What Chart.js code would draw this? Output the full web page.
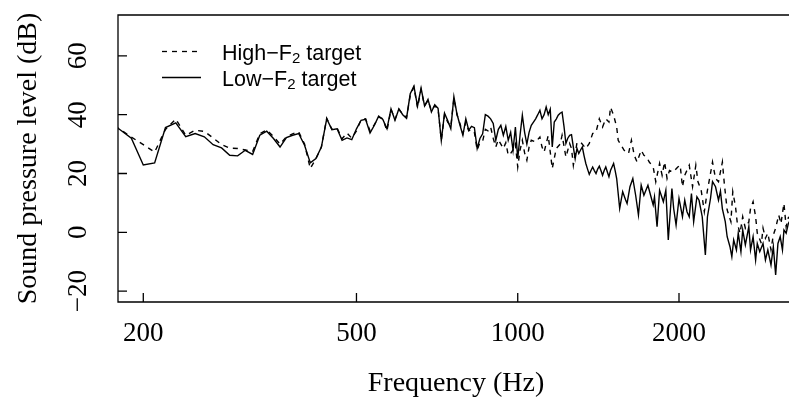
<!DOCTYPE html>
<html><head><meta charset="utf-8">
<script src="https://cdn.jsdelivr.net/npm/chart.js@4.4.1/dist/chart.umd.min.js"></script>
<style>html,body{margin:0;padding:0;background:#fff}#wrap{width:789px;height:410px}</style>
</head><body><div id="wrap"><canvas id="c" width="789" height="410"></canvas></div>
<script>
const seriesNames = ['High\u2212F|2| target', 'Low\u2212F|2| target'];
const xTitle = 'Frequency (Hz)';
const yTitle = 'Sound pressure level (dB)';
const xTicks = [200, 500, 1000, 2000];
const yTicks = [-20, 0, 20, 40, 60];

const freqLow = [170,180,190,200,210,220,230,240,250,260,270,280,290,300,310,320,330,340,350,360,370,380,390,400,410,420,430,440,450,460,470,480,490,500,510,520,530,540,550,560,570,580,590,600,610,620,630,640,650,660,670,680,690,700,710,720,730,740,750,760,770,780,790,800,810,820,830,840,850,860,870,880,890,900,910,920,930,940,950,960,970,980,990,1000,1010,1020,1030,1040,1050,1060,1070,1080,1090,1100,1110,1120,1130,1140,1150,1160,1170,1180,1190,1200,1210,1220,1230,1240,1250,1260,1270,1280,1290,1300,1310,1320,1330,1340,1350,1360,1370,1380,1390,1400,1410,1420,1430,1440,1450,1460,1470,1480,1490,1510,1520,1530,1550,1570,1590,1600,1620,1640,1660,1680,1700,1720,1750,1770,1790,1800,1820,1840,1870,1890,1910,1940,1955,1975,2000,2030,2050,2070,2090,2110,2130,2160,2180,2210,2240,2260,2290,2310,2340,2370,2390,2410,2440,2460,2490,2510,2530,2560,2580,2610,2630,2660,2700,2720,2750,2780,2800,2830,2870,2900,2930,2970,3000,3030,3060,3090,3120,3140,3170,3200,3250];
const dbLow = [37.5,35.2,32.0,22.9,23.6,35.6,37.2,32.5,33.6,32.5,29.8,28.7,26.2,26.0,27.9,26.5,33.0,34.4,31.9,29.0,32.2,33.0,33.6,29.6,23.6,25.1,29.0,38.6,34.9,35.2,31.3,32.1,31.5,35.2,38.1,38.4,33.8,36.4,39.5,38.4,35.2,42.0,38.1,42.0,40.0,38.8,47.1,49.7,42.9,49.0,43.0,45.2,40.9,43.4,42.2,31.2,40.5,38.0,35.2,46.1,40.3,36.5,33.0,38.6,34.7,36.0,35.6,28.5,31.9,33.5,40.0,39.5,38.6,37.0,31.3,35.0,36.4,33.0,36.0,31.3,34.0,27.9,35.8,25.0,33.0,39.8,34.0,30.0,34.0,36.4,37.5,38.6,40.0,41.5,38.6,40.0,42.6,40.0,41.9,29.0,37.5,38.5,39.8,40.5,40.9,36.0,30.2,32.0,33.0,33.2,29.0,25.0,28.5,26.8,28.0,29.0,26.0,23.4,21.5,19.7,21.0,22.2,21.0,20.0,21.5,22.5,21.0,19.4,21.0,22.2,20.5,18.9,21.0,23.4,21.0,18.3,8.1,13.8,11.0,9.8,15.5,18.3,12.6,5.9,16.0,12.6,16.0,12.6,9.3,12.0,1.9,14.3,10.4,14.3,-2.6,14.9,8.0,2.5,11.5,5.3,10.9,7.0,5.3,13.2,3.6,12.1,10.9,5.3,-7.7,5.3,11.5,17.2,15.5,10.9,14.0,8.0,3.6,-1.5,-4.9,-8.3,-2.6,-6.0,-0.3,-6.6,0.8,-4.3,1.9,-6.0,-1.5,-9.4,-3.8,-6.6,-3.8,-9.4,-6.0,-11.1,-4.9,-14.5,-3.8,-1.5,-6.0,0.8,-0.3,3.0,5.0];

const freqHigh = [170,180,190,200,210,220,230,240,250,260,270,280,290,300,310,320,330,340,350,360,370,380,390,400,410,420,430,440,450,460,470,480,490,500,510,520,530,540,550,560,570,580,590,600,610,620,630,640,650,660,670,680,690,700,710,720,730,740,750,760,770,780,790,800,810,820,830,840,850,860,870,880,890,900,910,920,930,940,950,960,970,980,990,1000,1010,1020,1030,1040,1050,1060,1080,1100,1110,1120,1140,1160,1180,1200,1210,1230,1250,1260,1270,1290,1310,1340,1360,1380,1400,1420,1440,1460,1480,1490,1510,1530,1540,1560,1580,1610,1630,1650,1670,1700,1720,1740,1760,1790,1810,1840,1860,1880,1900,1920,1950,1990,2010,2030,2050,2090,2120,2150,2170,2200,2230,2260,2290,2310,2340,2370,2410,2430,2460,2500,2520,2550,2570,2600,2630,2660,2700,2720,2750,2780,2800,2850,2870,2900,2930,2970,3000,3030,3070,3100,3140,3170,3200,3250];
const dbHigh = [37.5,35.3,32.4,29.8,27.3,35.0,38.5,33.0,34.7,34.3,32.1,29.8,28.6,28.5,28.0,27.5,33.5,34.8,32.6,30.0,32.5,33.5,34.2,30.0,21.7,25.0,29.0,38.8,35.0,35.5,31.8,33.8,32.0,34.5,38.3,38.6,34.5,36.6,39.2,38.6,34.5,41.8,38.4,41.8,40.2,39.0,46.5,49.4,42.4,48.5,43.0,44.8,41.4,43.0,42.0,31.3,40.0,37.5,36.0,45.5,40.0,37.0,33.6,37.5,34.5,35.0,34.0,28.0,30.5,31.0,35.0,34.5,35.8,32.0,29.0,31.5,30.0,28.5,30.5,26.2,26.8,28.0,30.0,22.2,28.0,31.3,27.0,24.5,29.0,31.3,30.7,32.4,29.0,27.3,32.9,21.7,28.5,30.0,33.0,25.6,30.2,28.5,22.8,30.5,30.7,28.5,30.2,33.6,34.1,38.6,35.8,38.6,37.5,42.5,39.8,35.8,31.3,29.6,27.9,26.8,31.3,26.2,23.9,27.9,26.2,25.6,23.9,22.2,17.2,23.4,19.4,23.9,18.3,21.0,20.5,22.2,22.8,15.5,19.4,22.8,15.5,22.8,17.2,14.3,7.0,14.3,20.0,23.9,18.3,17.2,23.9,16.6,7.6,3.6,13.8,8.7,3.0,-0.3,5.3,1.4,3.6,8.1,10.4,5.3,-0.3,-3.8,1.4,-2.0,-0.3,-6.0,-0.9,1.4,5.9,3.0,9.8,1.9,5.0,6.0];

const serif = '"Liberation Serif", "Times New Roman", serif';
const sans = '"Liberation Sans", Arial, sans-serif';

function drawRich(ctx, text, x, y, size) {
  const parts = text.split('|');
  let cx = x;
  parts.forEach((p, i) => {
    const sub = i % 2 === 1;
    ctx.font = (sub ? Math.round(size * 0.68) : size) + 'px ' + sans;
    ctx.fillText(p, cx, sub ? y + 3 : y);
    cx += ctx.measureText(p).width;
  });
}

const decor = {
  id: 'decor',
  afterDraw(chart) {
    const ctx = chart.ctx, a = chart.chartArea;
    const xs = chart.scales.x, ys = chart.scales.y;
    ctx.save();
    ctx.strokeStyle = '#000';
    ctx.fillStyle = '#000';
    ctx.lineWidth = 1.3;
    ctx.setLineDash([]);
    ctx.beginPath();
    ctx.moveTo(chart.width + 2, a.top); ctx.lineTo(a.left, a.top);
    ctx.lineTo(a.left, a.bottom); ctx.lineTo(chart.width + 2, a.bottom);
    ctx.stroke();
    ctx.beginPath();
    xTicks.forEach(v => { const px = xs.getPixelForValue(v); ctx.moveTo(px, a.bottom); ctx.lineTo(px, a.bottom - 9); });
    yTicks.forEach(v => { const py = ys.getPixelForValue(v); ctx.moveTo(a.left, py); ctx.lineTo(a.left + 9, py); });
    ctx.stroke();
    ctx.font = '27px ' + serif;
    ctx.textAlign = 'center';
    ctx.textBaseline = 'alphabetic';
    xTicks.forEach(v => ctx.fillText(String(v), xs.getPixelForValue(v), 341));
    yTicks.forEach(v => {
      ctx.save();
      ctx.translate(86, ys.getPixelForValue(v));
      ctx.rotate(-Math.PI / 2);
      ctx.fillText(v < 0 ? '\u2212' + Math.abs(v) : String(v), 0, 0);
      ctx.restore();
    });
    ctx.font = '28px ' + serif;
    ctx.fillText(xTitle, 456, 391);
    ctx.save();
    ctx.translate(36, (a.top + a.bottom) / 2);
    ctx.rotate(-Math.PI / 2);
    ctx.fillText(yTitle, 0, 0);
    ctx.restore();
    ctx.lineWidth = 1.3;
    ctx.beginPath();
    ctx.setLineDash([5, 5]);
    ctx.moveTo(162, 51.5); ctx.lineTo(201, 51.5);
    ctx.stroke();
    ctx.setLineDash([]);
    ctx.beginPath();
    ctx.moveTo(162, 77.5); ctx.lineTo(201, 77.5);
    ctx.stroke();
    ctx.textAlign = 'left';
    ctx.textBaseline = 'alphabetic';
    drawRich(ctx, seriesNames[0], 222, 60, 21.5);
    drawRich(ctx, seriesNames[1], 222, 86, 21.5);
    ctx.restore();
  }
};

const toPts = (fs, ds) => fs.map((f, i) => ({ x: f, y: ds[i] }));

new Chart(document.getElementById('c'), {
  type: 'line',
  data: {
    datasets: [
      { label: seriesNames[0].replace(/\|/g, ''), data: toPts(freqHigh, dbHigh), borderColor: '#000', borderWidth: 1.4, borderDash: [5, 5], pointRadius: 0, tension: 0, fill: false },
      { label: seriesNames[1].replace(/\|/g, ''), data: toPts(freqLow, dbLow), borderColor: '#000', borderWidth: 1.4, pointRadius: 0, tension: 0, fill: false }
    ]
  },
  options: {
    responsive: false,
    animation: false,
    devicePixelRatio: 1,
    layout: { padding: { left: 118, top: 15, right: 0, bottom: 108 } },
    plugins: { legend: { display: false }, tooltip: { enabled: false } },
    scales: {
      x: { type: 'logarithmic', min: 179.4, max: 3209, display: false },
      y: { type: 'linear', min: -23.7, max: 73.9, display: false }
    }
  },
  plugins: [decor]
});
</script>
</body></html>
